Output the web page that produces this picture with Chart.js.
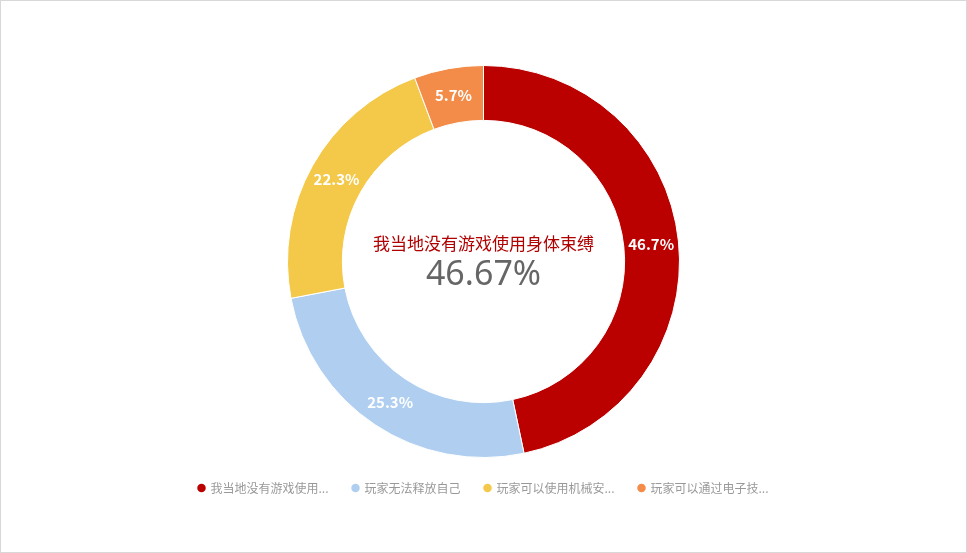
<!DOCTYPE html>
<html><head><meta charset="utf-8">
<script src="https://cdn.jsdelivr.net/npm/chart.js@4/dist/chart.umd.min.js"></script>
<style>
body{margin:0;background:#fff;}
#wrap{position:absolute;left:0;top:0;width:965px;height:551px;border:1px solid #d8d8d8;}
</style></head>
<body>
<div id="wrap"><canvas id="pie"></canvas></div>
<script>
const labels = ['我当地没有游戏使用身体束缚', '玩家无法释放自己', '玩家可以使用机械安全装置', '玩家可以通过电子技术解锁'];
const values = [46.67, 25.3, 22.3, 5.7];
const colors = ['#bb0000', '#b0cff0', '#f4c94a', '#f28c48'];

// draws percentage in each slice and the centre title
const sliceText = {
	id: 'sliceText',
	afterDatasetsDraw(chart) {
		const ctx = chart.ctx;
		const meta = chart.getDatasetMeta(0);
		ctx.save();
		ctx.fillStyle = '#fff';
		ctx.font = 'bold 15px "Noto Sans CJK SC", sans-serif';
		ctx.textAlign = 'center';
		ctx.textBaseline = 'middle';
		meta.data.forEach(function(arc, i) {
			const p = arc.getCenterPoint();
			ctx.fillText(values[i].toFixed(1) + '%', p.x, p.y);
		});
		const a = meta.data[0];
		ctx.fillStyle = '#b00000';
		ctx.font = '17px "Noto Sans CJK SC", sans-serif';
		ctx.fillText(labels[0], a.x, a.y - 18);
		ctx.fillStyle = '#666';
		ctx.font = '34px "Noto Sans", sans-serif';
		ctx.fillText(values[0].toFixed(2) + '%', a.x, a.y + 14);
		ctx.restore();
	}
};

new Chart(document.getElementById('pie'), {
	type: 'doughnut',
	data: {
		labels: labels,
		datasets: [{ data: values, backgroundColor: colors, borderColor: '#fff', borderWidth: 1 }]
	},
	options: {
		responsive: true,
		maintainAspectRatio: false,
		animation: false,
		cutout: '72%',
		layout: { padding: { top: 64, bottom: 48 } },
		plugins: {
			tooltip: { enabled: false },
			legend: {
				position: 'bottom',
				labels: {
					padding: 24,
					boxWidth: 6, boxHeight: 6,
					usePointStyle: true, pointStyle: 'circle',
					color: '#999',
					font: { size: 12, family: '"Noto Sans CJK SC", sans-serif' },
					generateLabels(chart) {
						return labels.map(function(l, i) {
							return {
								text: l.length > 9 ? l.slice(0, 9) + '...' : l,
								fillStyle: colors[i], strokeStyle: colors[i], lineWidth: 0,
								fontColor: '#999', pointStyle: 'circle', index: i
							};
						});
					}
				}
			}
		}
	},
	plugins: [sliceText]
});
</script>
</body></html>
